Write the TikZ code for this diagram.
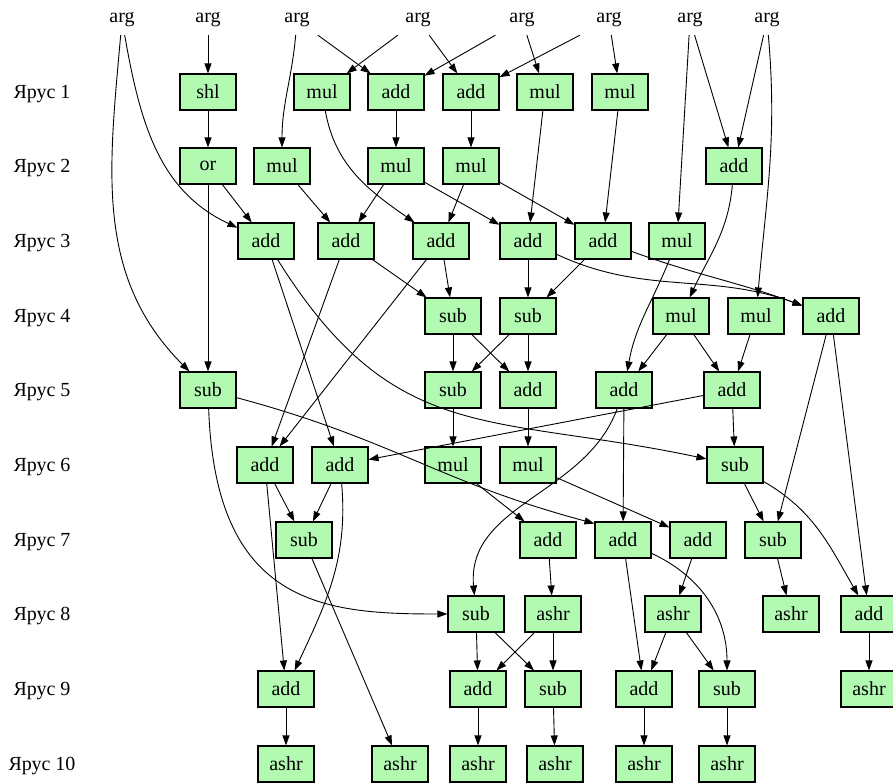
\documentclass[tikz,border=0pt]{standalone}
\usepackage{fontspec}
\setmainfont{Liberation Serif}
\usepackage{xcolor}
\usepackage{tikz}
\usetikzlibrary{arrows.meta}
\definecolor{opfill}{RGB}{178,250,178}

\begin{document}
\begin{tikzpicture}[x=1pt,y=1pt,font=\fontsize{20}{24}\selectfont,
op/.style={draw,line width=1.6pt,fill=opfill,minimum width=55.5pt,minimum height=35.5pt,inner sep=0pt},
arg/.style={minimum width=64pt,minimum height=30pt,inner sep=0pt},
>={Triangle[length=10pt,width=7pt]}]
\useasboundingbox (0,0) rectangle (893,-783);
\clip (0,0) rectangle (893,-783);
% tiers
\node (t1) at (42,-94) {Ярус 1};
\node (t2) at (42,-168) {Ярус 2};
\node (t3) at (42,-243) {Ярус 3};
\node (t4) at (42,-318) {Ярус 4};
\node (t5) at (42,-392) {Ярус 5};
\node (t6) at (42,-467) {Ярус 6};
\node (t7) at (42,-542) {Ярус 7};
\node (t8) at (42,-616) {Ярус 8};
\node (t9) at (42,-691) {Ярус 9};
\node (t10) at (42,-766) {Ярус 10};
% arguments
\node[arg] (a1) at (122,-20) {arg};
\node[arg] (a2) at (208,-20) {arg};
\node[arg] (a3) at (297,-20) {arg};
\node[arg] (a4) at (418,-20) {arg};
\node[arg] (a5) at (522,-20) {arg};
\node[arg] (a6) at (609,-20) {arg};
\node[arg] (a7) at (690,-20) {arg};
\node[arg] (a8) at (767,-20) {arg};
% operations
\node[op] (n1-1) at (208,-92) {shl};
\node[op] (n1-2) at (322,-92) {mul};
\node[op] (n1-3) at (396,-92) {add};
\node[op] (n1-4) at (471,-92) {add};
\node[op] (n1-5) at (545,-92) {mul};
\node[op] (n1-6) at (620,-92) {mul};
\node[op] (n2-1) at (208,-166) {or};
\node[op] (n2-2) at (282,-166) {mul};
\node[op] (n2-3) at (396,-166) {mul};
\node[op] (n2-4) at (471,-166) {mul};
\node[op] (n2-5) at (734,-166) {add};
\node[op] (n3-1) at (266,-241) {add};
\node[op] (n3-2) at (346,-241) {add};
\node[op] (n3-3) at (441,-241) {add};
\node[op] (n3-4) at (528,-241) {add};
\node[op] (n3-5) at (603,-241) {add};
\node[op] (n3-6) at (677,-241) {mul};
\node[op] (n4-1) at (453,-316) {sub};
\node[op] (n4-2) at (528,-316) {sub};
\node[op] (n4-3) at (681,-316) {mul};
\node[op] (n4-4) at (756,-316) {mul};
\node[op] (n4-5) at (831,-316) {add};
\node[op] (n5-1) at (208,-390) {sub};
\node[op] (n5-2) at (453,-390) {sub};
\node[op] (n5-3) at (528,-390) {add};
\node[op] (n5-4) at (624,-390) {add};
\node[op] (n5-5) at (732,-390) {add};
\node[op] (n6-1) at (265,-465) {add};
\node[op] (n6-2) at (340,-465) {add};
\node[op] (n6-3) at (453,-465) {mul};
\node[op] (n6-4) at (528,-465) {mul};
\node[op] (n6-5) at (735,-465) {sub};
\node[op] (n7-1) at (304,-540) {sub};
\node[op] (n7-2) at (548,-540) {add};
\node[op] (n7-3) at (623,-540) {add};
\node[op] (n7-4) at (698,-540) {add};
\node[op] (n7-5) at (773,-540) {sub};
\node[op] (n8-1) at (476,-614) {sub};
\node[op] (n8-2) at (553,-614) {ashr};
\node[op] (n8-3) at (673,-614) {ashr};
\node[op] (n8-4) at (791,-614) {ashr};
\node[op] (n8-5) at (869,-614) {add};
\node[op] (n9-1) at (286,-689) {add};
\node[op] (n9-2) at (478,-689) {add};
\node[op] (n9-3) at (553,-689) {sub};
\node[op] (n9-4) at (644,-689) {add};
\node[op] (n9-5) at (727,-689) {sub};
\node[op] (n9-6) at (869,-689) {ashr};
\node[op] (n10-1) at (286,-764) {ashr};
\node[op] (n10-2) at (400,-764) {ashr};
\node[op] (n10-3) at (478,-764) {ashr};
\node[op] (n10-4) at (555,-764) {ashr};
\node[op] (n10-5) at (644,-764) {ashr};
\node[op] (n10-6) at (727,-764) {ashr};
% data flow
\path[->,line width=0.9pt]
(a1) edge[out=-80,in=155] (n3-1)
(a1) edge[out=-95,in=135] (n5-1)
(a2) edge (n1-1)
(a3) edge[out=-95,in=90] (n2-2)
(a3) edge (n1-3)
(a4) edge (n1-2)
(a4) edge (n1-4)
(a5) edge (n1-3)
(a5) edge (n1-5)
(a6) edge (n1-4)
(a6) edge (n1-6)
(a7) edge (n3-6)
(a7) edge (n2-5)
(a8) edge (n2-5)
(a8) edge[out=-85,in=85] (n4-4)
(n1-1) edge (n2-1)
(n1-2) edge[out=-80,in=145] (n3-3)
(n1-3) edge (n2-3)
(n1-4) edge (n2-4)
(n1-5) edge (n3-4)
(n1-6) edge (n3-5)
(n2-1) edge (n5-1)
(n2-1) edge (n3-1)
(n2-2) edge (n3-2)
(n2-3) edge (n3-2)
(n2-3) edge (n3-4)
(n2-4) edge (n3-3)
(n2-4) edge (n3-5)
(n2-5) edge[out=-95,in=65] (n4-3)
(n3-1) edge (n6-2)
(n3-1) edge[out=-58,in=168,looseness=1.2] (n6-5)
(n3-2) edge (n6-1)
(n3-2) edge (n4-1)
(n3-3) edge (n6-1)
(n3-3) edge (n4-1)
(n3-4) edge (n4-2)
(n3-4) edge[out=-25,in=160] (n4-5)
(n3-5) edge (n4-2)
(n3-5) edge[out=-20,in=160] (n4-5)
(n3-6) edge[out=-112,in=80] (n5-4)
(n4-1) edge (n5-2)
(n4-1) edge (n5-3)
(n4-2) edge (n5-2)
(n4-2) edge (n5-3)
(n4-3) edge (n5-4)
(n4-3) edge (n5-5)
(n4-4) edge (n5-5)
(n4-5) edge (n7-5)
(n4-5) edge (n8-5)
(n5-1) edge[out=-88,in=180,out looseness=1.6] (n8-1)
(n5-1) edge[out=-15,in=165,looseness=1.1] (n7-3.150)
(n5-2) edge (n6-3)
(n5-3) edge (n6-4)
(n5-4) edge[out=-110,in=95] (n8-1)
(n5-4) edge (n7-3)
(n5-5) edge (n6-2)
(n5-5) edge (n6-5)
(n6-1) edge (n7-1)
(n6-1) edge (n9-1)
(n6-2) edge (n7-1)
(n6-2) edge[out=-85,in=65] (n9-1)
(n6-3) edge (n7-2)
(n6-4) edge (n7-4)
(n6-5) edge (n7-5)
(n6-5) edge[out=-30,in=120] (n8-5)
(n7-1) edge (n10-2)
(n7-2) edge (n8-2)
(n7-3) edge (n9-4)
(n7-3) edge[out=-25,in=90] (n9-5)
(n7-4) edge (n8-3)
(n7-5) edge (n8-4)
(n8-1) edge (n9-2)
(n8-1) edge (n9-3)
(n8-2) edge (n9-2)
(n8-2) edge (n9-3)
(n8-3) edge (n9-4)
(n8-3) edge (n9-5)
(n8-5) edge (n9-6)
(n9-1) edge (n10-1)
(n9-2) edge (n10-3)
(n9-3) edge (n10-4)
(n9-4) edge (n10-5)
(n9-5) edge (n10-6);
\end{tikzpicture}
\end{document}
